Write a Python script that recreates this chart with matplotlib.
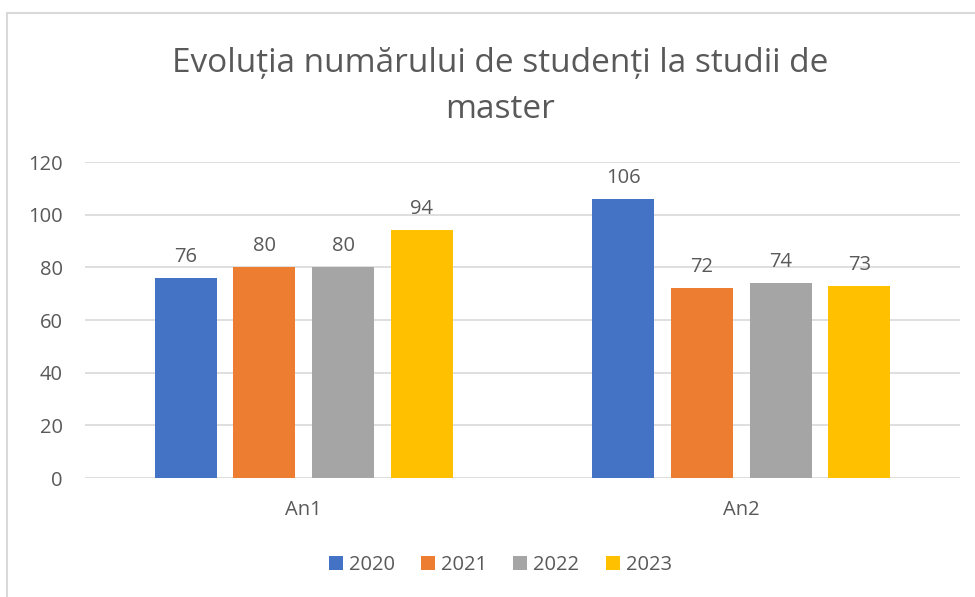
import numpy as np
import matplotlib.pyplot as plt
from matplotlib.patches import Rectangle

plt.rcParams['font.family'] = ['Open Sans', 'DejaVu Sans']

categories = ['An1', 'An2']
years = ['2020', '2021', '2022', '2023']
values = {
    '2020': [76, 106],
    '2021': [80, 72],
    '2022': [80, 74],
    '2023': [94, 73],
}
colors = ['#4472C4', '#ED7D31', '#A5A5A5', '#FFC000']
text_col = '#595959'

fig = plt.figure(figsize=(9.75, 5.97), dpi=100)
ax = fig.add_axes([0.0872, 0.1993, 0.8974, 0.5293])

# chart frame (top and left edges visible)
fig.patches.append(Rectangle((7 / 975, -0.1), 1.2, 1 - 13 / 597 + 0.1,
                             transform=fig.transFigure, fill=False,
                             edgecolor='#D9D9D9', linewidth=1.5))

x = np.arange(len(categories))
step = 0.18
width = 0.142
for i, y in enumerate(years):
    pos = x + (i - 1.5) * step
    bars = ax.bar(pos, values[y], width, color=colors[i], label=y, zorder=3)
    for b, v in zip(bars, values[y]):
        ax.annotate(str(v), (b.get_x() + b.get_width() / 2, v),
                    xytext=(0, 8), textcoords='offset points',
                    ha='center', va='bottom', fontsize=14.5, color=text_col)

ax.set_xlim(-0.5, 1.5)
ax.set_ylim(0, 120)
ax.set_yticks(range(0, 121, 20))
ax.set_xticks(x)
ax.set_xticklabels(categories)
ax.yaxis.grid(True, color='#D9D9D9', linewidth=1.2, zorder=0)
for s in ax.spines.values():
    s.set_visible(False)
ax.tick_params(axis='both', length=0, labelsize=14.5, colors=text_col)
ax.tick_params(axis='y', pad=16)
ax.tick_params(axis='x', pad=16)

fig.text(0.513, 0.855, 'Evoluția numărului de studenți la studii de\nmaster',
         ha='center', va='center', fontsize=24, color=text_col,
         linespacing=1.5)

fig.legend(loc='center', bbox_to_anchor=(0.513, 0.053), ncol=4, frameon=False,
           fontsize=14.5, handlelength=0.7, handleheight=0.7,
           handletextpad=0.3, columnspacing=1.3, labelcolor=text_col)

fig.savefig('out.png', dpi=100)
